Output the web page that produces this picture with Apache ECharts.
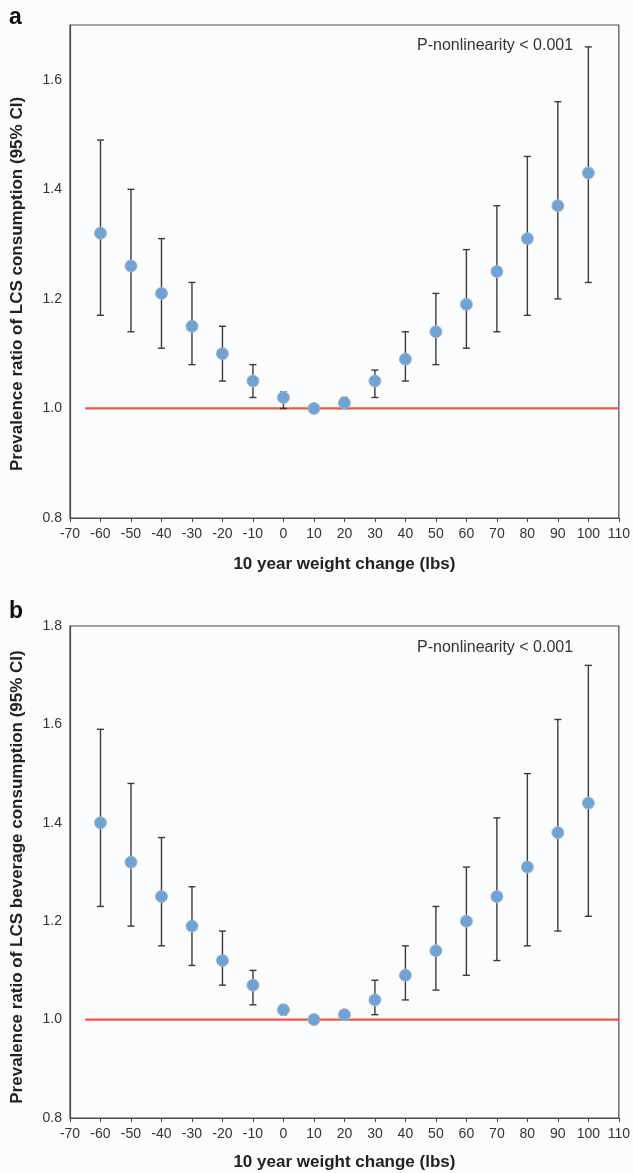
<!DOCTYPE html>
<html>
<head>
<meta charset="utf-8">
<script src="https://cdn.jsdelivr.net/npm/echarts@6/dist/echarts.min.js"></script>
<style>
html,body{margin:0;padding:0;background:#fbfcfd;}
#c{width:633px;height:1173px;}
</style>
</head>
<body>
<div id="c"></div>
<script>
// Weight change categories (lbs)
const weightChange = [-60, -50, -40, -30, -20, -10, 0, 10, 20, 30, 40, 50, 60, 70, 80, 90, 100];

// Panel a: LCS consumption
const prA    = [1.32, 1.26, 1.21, 1.15, 1.10, 1.05, 1.02, 1.00, 1.01, 1.05, 1.09, 1.14, 1.19, 1.25, 1.31, 1.37, 1.43];
const lowerA = [1.17, 1.14, 1.11, 1.08, 1.05, 1.02, 1.00, null, 1.00, 1.02, 1.05, 1.08, 1.11, 1.14, 1.17, 1.20, 1.23];
const upperA = [1.49, 1.40, 1.31, 1.23, 1.15, 1.08, 1.03, null, 1.02, 1.07, 1.14, 1.21, 1.29, 1.37, 1.46, 1.56, 1.66];

// Panel b: LCS beverage consumption
const prB    = [1.40, 1.32, 1.25, 1.19, 1.12, 1.07, 1.02, 1.00, 1.01, 1.04, 1.09, 1.14, 1.20, 1.25, 1.31, 1.38, 1.44];
const lowerB = [1.23, 1.19, 1.15, 1.11, 1.07, 1.03, 1.01, null, 1.00, 1.01, 1.04, 1.06, 1.09, 1.12, 1.15, 1.18, 1.21];
const upperB = [1.59, 1.48, 1.37, 1.27, 1.18, 1.10, 1.03, null, 1.02, 1.08, 1.15, 1.23, 1.31, 1.41, 1.50, 1.61, 1.72];

// Reference line at PR = 1.0
const refLineX = [-65, 110];
const refLineY = 1.0;

const xTicks = {min: -70, max: 110, interval: 10};
const yTicksA = {min: 0.8, max: 1.7, interval: 0.2};
const yTicksB = {min: 0.8, max: 1.8, interval: 0.2};

const xName = '10 year weight change (lbs)';
const yNameA = 'Prevalence ratio of LCS consumption (95% CI)';
const yNameB = 'Prevalence ratio of LCS beverage consumption (95% CI)';
const pNote = 'P-nonlinearity < 0.001';

const FONT = 'Liberation Sans, Arial, sans-serif';
const frameColor = '#54453f';
const textColor = '#333333';

function errData(lo, hi) {
  const out = [];
  weightChange.forEach((x, i) => {
    if (lo[i] != null && hi[i] != null) out.push([x, lo[i], hi[i]]);
  });
  return out;
}

function renderErr(params, api) {
  const x = api.value(0);
  const lo = api.coord([x, api.value(1)]);
  const hi = api.coord([x, api.value(2)]);
  const w = 3.5;
  const style = {stroke: '#3a3a3a', lineWidth: 1.4};
  return {
    type: 'group',
    children: [
      {type: 'line', shape: {x1: lo[0], y1: lo[1], x2: hi[0], y2: hi[1]}, style},
      {type: 'line', shape: {x1: hi[0] - w, y1: hi[1], x2: hi[0] + w, y2: hi[1]}, style},
      {type: 'line', shape: {x1: lo[0] - w, y1: lo[1], x2: lo[0] + w, y2: lo[1]}, style}
    ]
  };
}

function xAxisDef(gi, gap) {
  return {
    type: 'value', gridIndex: gi,
    min: xTicks.min, max: xTicks.max, interval: xTicks.interval,
    name: xName, nameLocation: 'middle', nameGap: gap,
    nameTextStyle: {fontFamily: FONT, fontSize: 17, fontWeight: 'bold', color: '#222'},
    axisLine: {show: true, onZero: false, lineStyle: {color: frameColor, width: 1.2}},
    axisTick: {show: true, length: 4, lineStyle: {color: frameColor}},
    axisLabel: {fontFamily: FONT, fontSize: 14, color: textColor, margin: 9},
    splitLine: {show: false}
  };
}

function yAxisDef(gi, t, name, pad) {
  return {
    type: 'value', gridIndex: gi,
    min: t.min, max: t.max, interval: t.interval,
    name: name, nameLocation: 'middle', nameGap: 44,
    nameTextStyle: {fontFamily: FONT, fontSize: 17, fontWeight: 'bold', color: '#222', padding: pad},
    axisLine: {show: true, onZero: false, lineStyle: {color: frameColor, width: 1.2}},
    axisTick: {show: false},
    axisLabel: {
      fontFamily: FONT, fontSize: 14, color: textColor, margin: 8,
      formatter: v => (Math.abs(Math.round(v / t.interval) * t.interval - v) < 1e-6) ? v.toFixed(1) : ''
    },
    splitLine: {show: false}
  };
}

const chart = echarts.init(document.getElementById('c'), null, {renderer: 'canvas'});

chart.setOption({
  backgroundColor: '#fbfcfd',
  animation: false,
  grid: [
    {left: 70, right: 14, top: 25, height: 493, show: true, borderColor: frameColor, borderWidth: 1.2, backgroundColor: 'transparent'},
    {left: 70, right: 14, top: 626, height: 492, show: true, borderColor: frameColor, borderWidth: 1.2, backgroundColor: 'transparent'}
  ],
  xAxis: [xAxisDef(0, 38), xAxisDef(1, 36)],
  yAxis: [yAxisDef(0, yTicksA, yNameA, [0, 25, 0, 0]), yAxisDef(1, yTicksB, yNameB, [0, 10, 0, 0])],
  graphic: [
    {type: 'text', left: 9, top: 6, style: {text: 'a', font: 'bold 23px ' + FONT, fill: '#111'}},
    {type: 'text', left: 9, top: 600, style: {text: 'b', font: 'bold 23px ' + FONT, fill: '#111'}},
    {type: 'text', left: 417, top: 38, style: {text: pNote, font: '16px ' + FONT, fill: textColor}},
    {type: 'text', left: 417, top: 640, style: {text: pNote, font: '16px ' + FONT, fill: textColor}}
  ],
  series: [
    {type: 'line', xAxisIndex: 0, yAxisIndex: 0, data: refLineX.map(x => [x, refLineY]),
     symbol: 'none', lineStyle: {color: '#f0573a', width: 2.2}, silent: true, z: 1},
    {type: 'line', xAxisIndex: 1, yAxisIndex: 1, data: refLineX.map(x => [x, refLineY]),
     symbol: 'none', lineStyle: {color: '#f0573a', width: 2.2}, silent: true, z: 1},
    {type: 'custom', xAxisIndex: 0, yAxisIndex: 0, data: errData(lowerA, upperA), renderItem: renderErr, z: 2},
    {type: 'custom', xAxisIndex: 1, yAxisIndex: 1, data: errData(lowerB, upperB), renderItem: renderErr, z: 2},
    {type: 'scatter', xAxisIndex: 0, yAxisIndex: 0, data: weightChange.map((x, i) => [x, prA[i]]),
     symbolSize: 12, itemStyle: {color: '#6fa3d7', borderColor: '#a9b6c2', borderWidth: 1, opacity: 1}, z: 3},
    {type: 'scatter', xAxisIndex: 1, yAxisIndex: 1, data: weightChange.map((x, i) => [x, prB[i]]),
     symbolSize: 12, itemStyle: {color: '#6fa3d7', borderColor: '#a9b6c2', borderWidth: 1, opacity: 1}, z: 3}
  ]
});
</script>
</body>
</html>
